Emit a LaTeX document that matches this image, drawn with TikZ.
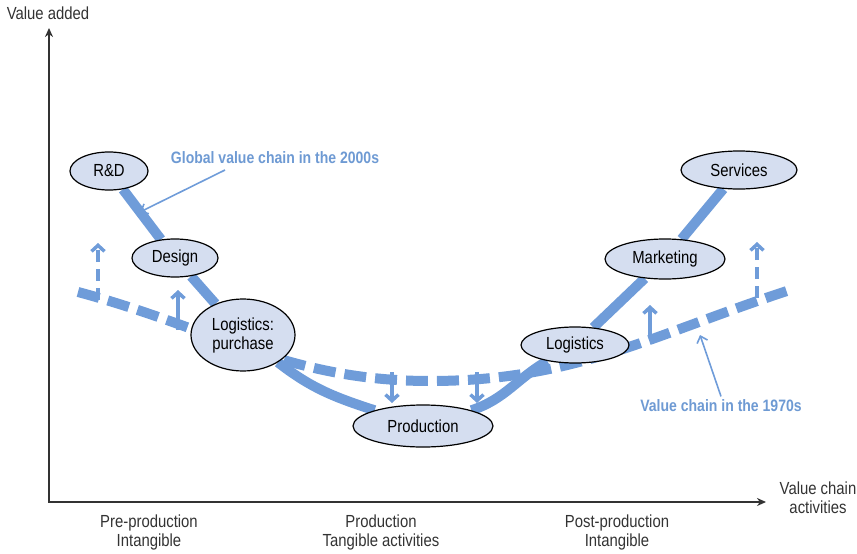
\documentclass[tikz,border=0pt]{standalone}
\usepackage{fontspec}
\setmainfont{Liberation Sans}[FakeStretch=0.85]
\usetikzlibrary{positioning,shapes.geometric,arrows.meta,backgrounds}
\definecolor{chainblue}{HTML}{6F9CD9}
\definecolor{stagefill}{HTML}{D5DEF0}
\definecolor{noteblue}{HTML}{6E9AD3}

\begin{document}
\begin{tikzpicture}[x=1pt,y=-1pt,
  stage/.style={draw, ellipse, fill=stagefill, line width=1.2pt, inner sep=0pt, align=center, font=\fontsize{17.5}{19}\selectfont},
  axistext/.style={align=center, text=black!80, font=\fontsize{17.5}{19}\selectfont},
  notetext/.style={text=noteblue, font=\bfseries\fontsize{16.5}{19}\selectfont},
  newchain/.style={chainblue, line width=10pt},
  oldchain/.style={chainblue, line width=10pt, dash pattern=on 22pt off 9pt},
  shiftarrow/.style={chainblue, line width=3.5pt, -{Straight Barb[length=6pt,width=13pt]}},
  pointer/.style={chainblue, line width=1.6pt, -{Straight Barb[length=6pt,width=11pt]}}]
\useasboundingbox (0,0) rectangle (857,554);

\node [stage, minimum width=78pt, minimum height=38pt] (rd) at (109,171) {R\&D};
\node [stage, minimum width=86pt, minimum height=38pt] (design) at (175,258) {Design};
\node [stage, minimum width=104pt, minimum height=72pt] (logpur) at (243,335) {Logistics:\\purchase};
\node [stage, minimum width=140pt, minimum height=42pt] (prod) at (423,426) {Production};
\node [stage, minimum width=108pt, minimum height=36pt] (logis) at (575,345) {Logistics};
\node [stage, minimum width=120pt, minimum height=40pt] (mkt) at (665,259) {Marketing};
\node [stage, minimum width=116pt, minimum height=38pt] (serv) at (739,170) {Services};

\node [notetext] (gvc) at (275,158) {Global value chain in the 2000s};
\node [notetext] (vc70) at (721,406) {Value chain in the 1970s};

\node [axistext] (yname) at (48,13) {Value added};
\node [axistext] (xname) at (818,498) {Value chain\\activities};
\node [axistext] (pre) at (149,532) {Pre-production\\Intangible};
\node [axistext] (mid) at (381,532) {Production\\Tangible activities};
\node [axistext] (post) at (617,532) {Post-production\\Intangible};

\coordinate (origin) at (49,502);
\coordinate (ytop) at (49,28);
\coordinate (xend) at (766,502);
\draw[black!80, line width=1.8pt, {Stealth[length=9pt,width=8pt]}-{Stealth[length=9pt,width=8pt]}] (ytop) -- (origin) -- (xend);

\coordinate (oldL) at (78,292);
\coordinate (oldM) at (430,381);
\coordinate (oldR) at (790,290);
\coordinate (gvcfoot) at (225,170);
\coordinate (gvctip) at (140,212);
\coordinate (vc70tip) at (700,335);

\begin{pgfonlayer}{background}
\coordinate (upA) at (98,300); \coordinate (upAtip) at (98,243);
\coordinate (upB) at (178,330); \coordinate (upBtip) at (178,290);
\coordinate (upC) at (650,335); \coordinate (upCtip) at (650,305);
\coordinate (upD) at (757,298); \coordinate (upDtip) at (757,242);
\coordinate (dnA) at (392,372); \coordinate (dnAtip) at (392,403);
\coordinate (dnB) at (477,372); \coordinate (dnBtip) at (477,403);
\draw[shiftarrow, dash pattern=on 12pt off 7pt] (upA) -- (upAtip);
\draw[shiftarrow] (upB) -- (upBtip);
\draw[shiftarrow] (upC) -- (upCtip);
\draw[shiftarrow, dash pattern=on 12pt off 7pt] (upD) -- (upDtip);
\draw[shiftarrow] (dnA) -- (dnAtip);
\draw[shiftarrow] (dnB) -- (dnBtip);

\path[newchain]
 (rd) edge (design)
 (design) edge (logpur)
 (logpur) edge[out=-38, in=162] (prod)
 (prod) edge[out=18, in=210] (logis)
 (logis) edge (mkt)
 (mkt) edge (serv);
\draw[oldchain] (oldL) to[out=-15, in=180] (oldM) to[out=0, in=198] (oldR);
\end{pgfonlayer}

\draw[pointer] (gvcfoot) -- (gvctip);
\draw[pointer] (vc70.north) -- (vc70tip);
\end{tikzpicture}
\end{document}
